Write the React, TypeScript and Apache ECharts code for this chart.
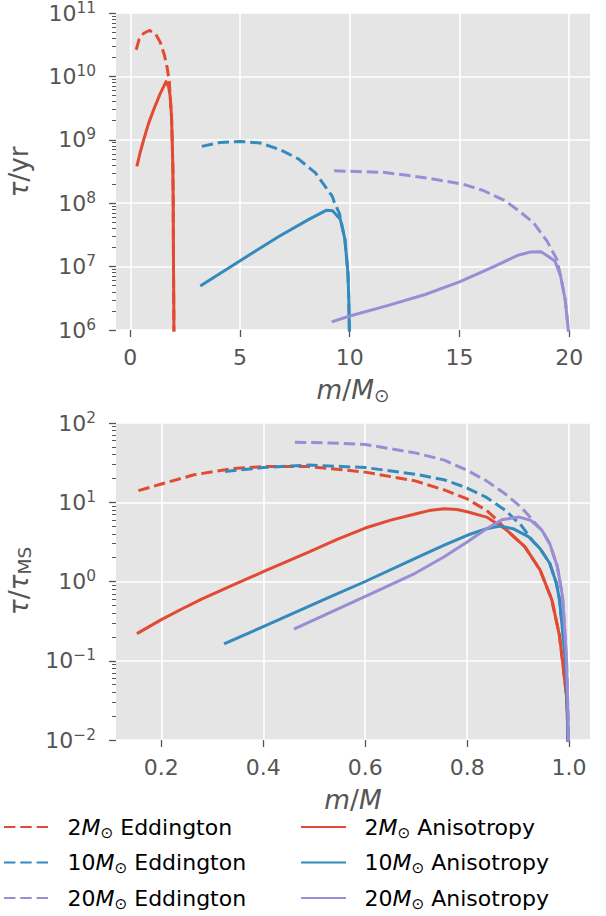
import React, { useEffect, useRef } from 'react';
import * as echarts from 'echarts';

const FONT = 'DejaVu Sans';
const TICK_COLOR = '#555555';
const TICK_SIZE = 22;
const TITLE_SIZE = 26.4;
const COLORS = ['#E24A33', '#348ABD', '#988ED5', '#E24A33', '#348ABD', '#988ED5'];
const DASHED = [true, true, true, false, false, false];
const SERIES_NAMES = [
  '2M⊙ Eddington', '10M⊙ Eddington', '20M⊙ Eddington',
  '2M⊙ Anisotropy', '10M⊙ Anisotropy', '20M⊙ Anisotropy',
];

// ---------- top panel: m/M_sun vs tau/yr ----------
const top2EddM = [0.27, 0.40, 0.61, 0.87, 1.14, 1.37, 1.55, 1.67, 1.78, 1.82, 1.88, 1.91, 1.94, 1.956, 1.97, 1.985, 2.0];
const top2EddTau = [2.63e10, 3.8e10, 4.79e10, 5.3e10, 4.79e10, 3.44e10, 2.2e10, 1.44e10, 8.3e9, 4.8e9, 2.34e9, 1.0e9, 3.8e8, 1.15e8, 1.0e7, 2.0e6, 1.0e5];
const top10EddM = [3.26, 4.10, 5.01, 5.92, 6.83, 7.66, 8.44, 9.21, 9.30, 9.53, 9.78, 9.92, 9.96, 9.985, 10.0];
const top10EddTau = [7.87e8, 9.1e8, 9.44e8, 8.9e8, 6.98e8, 5.0e8, 3.0e8, 1.28e8, 1.02e8, 6.9e7, 2.7e7, 7.9e6, 3.0e6, 1.0e6, 1.0e5];
const top20EddM = [9.29, 11.6, 13.5, 15.16, 16.1, 17.06, 17.7, 18.38, 19.0, 19.44, 19.61, 19.82, 19.96, 20.0];
const top20EddTau = [3.24e8, 3.06e8, 2.5e8, 2.0e8, 1.58e8, 1.1e8, 7.6e7, 4.9e7, 2.5e7, 1.3e7, 7.1e6, 3.0e6, 1.02e6, 1.0e5];
const top2AnisM = [0.30, 0.45, 0.61, 0.83, 1.06, 1.37, 1.63, 1.75, 1.82, 1.88, 1.91, 1.94, 1.956, 1.97, 1.985, 2.0];
const top2AnisTau = [3.8e8, 6.3e8, 1.0e9, 1.8e9, 2.95e9, 5.4e9, 8.3e9, 6.8e9, 4.8e9, 2.34e9, 1.0e9, 3.8e8, 1.15e8, 1.0e7, 2.0e6, 1.0e5];
const top10AnisM = [3.19, 4.99, 6.75, 8.16, 8.95, 9.22, 9.57, 9.78, 9.92, 9.96, 9.985, 10.0];
const top10AnisTau = [4.95e6, 1.23e7, 2.95e7, 5.6e7, 7.76e7, 7.6e7, 5.6e7, 2.7e7, 7.9e6, 3.0e6, 1.0e6, 1.0e5];
const top20AnisM = [9.18, 10.0, 11.68, 13.44, 15.0, 16.62, 17.67, 18.24, 18.7, 18.9, 19.35, 19.61, 19.82, 19.96, 20.0];
const top20AnisTau = [1.34e6, 1.66e6, 2.4e6, 3.63e6, 5.75e6, 1.02e7, 1.51e7, 1.7e7, 1.72e7, 1.57e7, 1.23e7, 7.1e6, 3.0e6, 1.02e6, 1.0e5];

// ---------- bottom panel: m/M vs tau/tau_MS ----------
const bot2EddX = [0.155, 0.2, 0.264, 0.34, 0.4, 0.49, 0.6, 0.698, 0.755, 0.8, 0.838, 0.862, 0.875, 0.913, 0.943, 0.966, 0.981, 0.987, 0.9955, 0.999, 1.0];
const bot2EddY = [14.0, 17.0, 22.2, 26.6, 28.2, 28.2, 24.0, 18.6, 14.3, 11.0, 7.9, 5.7, 4.6, 2.75, 1.4, 0.59, 0.21, 0.1, 0.033, 0.006, 0.0001];
const bot10EddX = [0.325, 0.4, 0.49, 0.6, 0.698, 0.755, 0.8, 0.838, 0.875, 0.906, 0.928, 0.943, 0.962, 0.975, 0.981, 0.987, 0.993, 0.997, 1.0];
const bot10EddY = [24.4, 27.4, 29.5, 27.4, 22.6, 19.2, 15.1, 11.5, 7.9, 5.1, 3.3, 2.6, 1.7, 0.95, 0.6, 0.25, 0.1, 0.02, 0.0001];
const bot20EddX = [0.462, 0.53, 0.6, 0.698, 0.755, 0.8, 0.838, 0.875, 0.906, 0.932, 0.947, 0.962, 0.977, 0.987, 0.99, 0.995, 0.998, 1.0];
const bot20EddY = [57.3, 56.0, 53.6, 42.0, 34.0, 25.3, 18.6, 12.7, 8.66, 5.6, 4.4, 3.0, 1.54, 0.65, 0.34, 0.1, 0.02, 0.0001];
const bot2AnisX = [0.152, 0.2, 0.24, 0.279, 0.34, 0.4, 0.49, 0.545, 0.6, 0.65, 0.698, 0.725, 0.755, 0.78, 0.8, 0.838, 0.875, 0.913, 0.943, 0.966, 0.981, 0.987, 0.9955, 0.999, 1.0];
const bot2AnisY = [0.22, 0.33, 0.45, 0.6, 0.9, 1.33, 2.37, 3.4, 4.73, 5.95, 7.1, 7.85, 8.3, 8.1, 7.6, 6.5, 4.6, 2.75, 1.4, 0.59, 0.21, 0.1, 0.033, 0.006, 0.0001];
const bot10AnisX = [0.323, 0.4, 0.521, 0.6, 0.698, 0.755, 0.8, 0.838, 0.864, 0.89, 0.921, 0.943, 0.962, 0.975, 0.981, 0.987, 0.993, 0.997, 1.0];
const bot10AnisY = [0.163, 0.27, 0.6, 1.0, 1.96, 2.87, 3.83, 4.64, 5.0, 4.64, 3.65, 2.6, 1.7, 0.95, 0.6, 0.25, 0.1, 0.02, 0.0001];
const bot20AnisX = [0.46, 0.596, 0.698, 0.755, 0.8, 0.838, 0.868, 0.902, 0.925, 0.947, 0.962, 0.977, 0.987, 0.99, 0.995, 0.998, 1.0];
const bot20AnisY = [0.25, 0.63, 1.27, 2.05, 3.16, 4.64, 6.0, 6.5, 5.9, 4.4, 3.0, 1.54, 0.65, 0.34, 0.1, 0.02, 0.0001];

// ---------- axes ----------
const TOP_X_TICKS = [0, 5, 10, 15, 20];
const BOT_X_TICKS = [0.2, 0.4, 0.6, 0.8, 1.0];
const TOP_X_RANGE = [-0.65, 20.95];
const BOT_X_RANGE = [0.111, 1.041];
const TOP_DECADES = [6, 11];
const BOT_DECADES = [-2, 2];

const topXs = [top2EddM, top10EddM, top20EddM, top2AnisM, top10AnisM, top20AnisM];
const topYs = [top2EddTau, top10EddTau, top20EddTau, top2AnisTau, top10AnisTau, top20AnisTau];
const botXs = [bot2EddX, bot10EddX, bot20EddX, bot2AnisX, bot10AnisX, bot20AnisX];
const botYs = [bot2EddY, bot10EddY, bot20EddY, bot2AnisY, bot10AnisY, bot20AnisY];

function minorTicks(lo: number, hi: number) {
  const out: number[] = [];
  for (let e = lo; e < hi; e++) for (let k = 2; k <= 9; k++) out.push(e + Math.log10(k));
  return out;
}

function supLabel(v: number) {
  const n = Math.round(v);
  const s = n < 0 ? '\u2212' + Math.abs(n) : String(n);
  return `{b|10}{s|${s}}`;
}

const tickRich = {
  b: { fontFamily: FONT, fontSize: TICK_SIZE, color: TICK_COLOR, lineHeight: 26 },
  s: { fontFamily: FONT, fontSize: 15.4, color: TICK_COLOR, lineHeight: 11, verticalAlign: 'top' },
};

const titleRich = {
  i: { fontFamily: FONT, fontSize: TITLE_SIZE, fontStyle: 'italic', fill: TICK_COLOR, color: TICK_COLOR, lineHeight: 32 },
  r: { fontFamily: FONT, fontSize: TITLE_SIZE, fill: TICK_COLOR, color: TICK_COLOR, lineHeight: 32 },
  sub: { fontFamily: FONT, fontSize: 18.5, fill: TICK_COLOR, color: TICK_COLOR, lineHeight: 17, verticalAlign: 'bottom' },
};

function xAxisDef(grid: number, range: number[], ticks: number[], fmt: (v: number) => string) {
  return {
    gridIndex: grid, type: 'value', min: range[0], max: range[1],
    axisLine: { show: false, onZero: false },
    axisTick: { show: true, customValues: ticks, length: 7, lineStyle: { color: TICK_COLOR, width: 1.3 } },
    axisLabel: { customValues: ticks, margin: 16, color: TICK_COLOR, fontSize: TICK_SIZE, fontFamily: FONT, formatter: fmt },
    splitLine: { show: true, lineStyle: { color: '#ffffff', width: 1.6 } },
  };
}

function yAxesDef(grid: number, decades: number[]) {
  return [
    { gridIndex: grid, type: 'log', logBase: 10, min: Math.pow(10, decades[0]), max: Math.pow(10, decades[1]), show: false, position: 'left', axisLine: { onZero: false } },
    {
      gridIndex: grid, type: 'value', min: decades[0], max: decades[1], interval: 1, position: 'left',
      axisLine: { show: false, onZero: false },
      axisTick: { show: true, length: 7, lineStyle: { color: TICK_COLOR, width: 1.3 } },
      axisLabel: { margin: 20, formatter: supLabel, rich: tickRich, color: TICK_COLOR },
      splitLine: { show: true, lineStyle: { color: '#ffffff', width: 1.6 } },
    },
    {
      gridIndex: grid, type: 'value', min: decades[0], max: decades[1], position: 'left',
      axisLine: { show: false, onZero: false },
      axisTick: { show: true, customValues: minorTicks(decades[0], decades[1]), length: 4, lineStyle: { color: TICK_COLOR, width: 1 } },
      axisLabel: { show: false },
      splitLine: { show: false },
    },
  ];
}

function makeSeries(xs: number[][], ys: number[][], xIdx: number, yIdx: number) {
  return xs.map((x, k) => ({
    name: SERIES_NAMES[k],
    type: 'line',
    xAxisIndex: xIdx,
    yAxisIndex: yIdx,
    data: x.map((v, i) => [v, ys[k][i]]),
    symbol: 'none',
    showSymbol: false,
    clip: true,
    silent: true,
    smooth: false,
    itemStyle: { color: COLORS[k] },
    lineStyle: { color: COLORS[k], width: 3, type: DASHED[k] ? [11.4, 4.9] : 'solid', join: 'round', cap: 'butt' },
  }));
}

function legendFormatter(name: string) {
  const m = name.match(/^(\d+)M⊙ (.*)$/);
  if (!m) return name;
  return `{n|${m[1]}}{i|M}{sub|⊙}{r| ${m[2]}}`;
}

const legendRich = {
  n: { fontFamily: FONT, fontSize: TICK_SIZE, color: '#000', lineHeight: 26, padding: [0, 0, 0, 13.4] },
  i: { fontFamily: FONT, fontSize: TICK_SIZE, fontStyle: 'italic', color: '#000', lineHeight: 26 },
  sub: { fontFamily: FONT, fontSize: 15.4, color: '#000', lineHeight: 13, verticalAlign: 'bottom' },
  r: { fontFamily: FONT, fontSize: TICK_SIZE, color: '#000', lineHeight: 26 },
};

function legendDef(left: number, names: string[]) {
  return {
    left, top: 816, orient: 'vertical', padding: 0,
    itemWidth: 45, itemHeight: 14, itemGap: 11.5,
    data: names, selectedMode: false,
    formatter: legendFormatter,
    itemStyle: { opacity: 0 },
    textStyle: { fontFamily: FONT, fontSize: TICK_SIZE, color: '#000', rich: legendRich },
  };
}

function titleText(x: number, y: number, text: string, rotate: boolean) {
  return {
    type: 'text', x, y, rotation: rotate ? Math.PI / 2 : 0, silent: true,
    style: {
      text, rich: titleRich, fill: TICK_COLOR, fontFamily: FONT, fontSize: TITLE_SIZE,
      textAlign: 'center', textVerticalAlign: 'middle',
    },
  };
}

export default function App() {
  const ref = useRef<HTMLDivElement>(null);
  useEffect(() => {
    if (!ref.current) return;
    const chart = echarts.init(ref.current, null, { renderer: 'svg' });
    const [tl, tM, tm] = yAxesDef(0, TOP_DECADES);
    const [bl, bM, bm] = yAxesDef(1, BOT_DECADES);
    chart.setOption({
      animation: false,
      textStyle: { fontFamily: FONT },
      grid: [
        { left: 116, top: 13, width: 474, height: 317, show: true, backgroundColor: '#E5E5E5', borderWidth: 0 },
        { left: 116, top: 423, width: 474, height: 317, show: true, backgroundColor: '#E5E5E5', borderWidth: 0 },
      ],
      xAxis: [
        xAxisDef(0, TOP_X_RANGE, TOP_X_TICKS, (v: number) => String(Math.round(v))),
        xAxisDef(1, BOT_X_RANGE, BOT_X_TICKS, (v: number) => v.toFixed(1)),
      ],
      yAxis: [tl, tM, tm, bl, bM, bm],
      legend: [legendDef(3, SERIES_NAMES.slice(0, 3)), legendDef(300, SERIES_NAMES.slice(3))],
      series: [...makeSeries(topXs, topYs, 0, 0), ...makeSeries(botXs, botYs, 1, 3)],
      graphic: [
        titleText(18, 172, '{i|τ}{r|/yr}', true),
        titleText(18, 581, '{i|τ}{r|/}{i|τ}{sub|MS}', true),
        titleText(353, 389, '{i|m}{r|/}{i|M}{sub|⊙}', false),
        titleText(353, 799.5, '{i|m}{r|/}{i|M}', false),
      ],
    });
    return () => chart.dispose();
  }, []);
  return <div ref={ref} style={{ position: 'absolute', left: 0, top: 0, width: 606, height: 916 }} />;
}
